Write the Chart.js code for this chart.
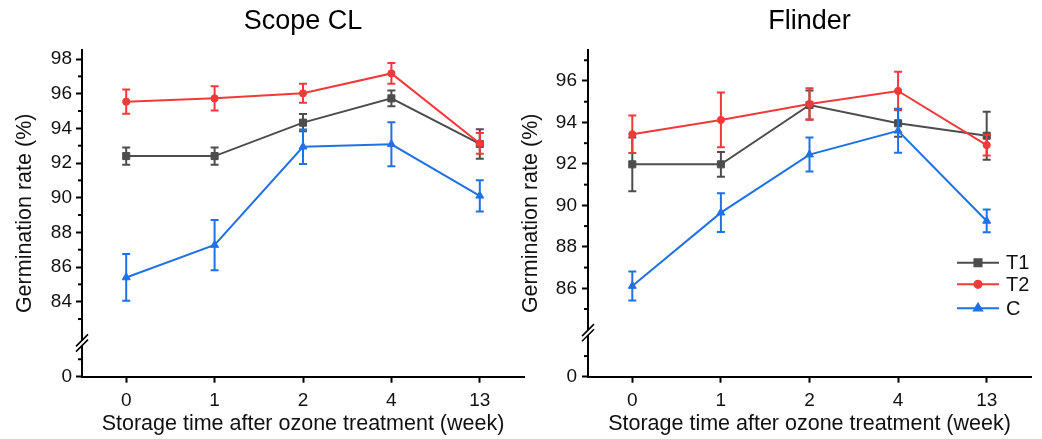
<!DOCTYPE html>
<html><head><meta charset="utf-8">
<script src="https://cdn.jsdelivr.net/npm/chart.js@4.4.1/dist/chart.umd.min.js"></script>
<style>
html,body{margin:0;padding:0;background:#fff;}
#wrap{position:relative;width:1042px;height:439px;overflow:hidden;background:#fff;}
canvas{position:absolute;top:0;}
</style></head><body>
<div id="wrap">
<canvas id="c1" width="530" height="439" style="left:0;width:530px;height:439px"></canvas>
<canvas id="c2" width="527" height="439" style="left:515px;width:527px;height:439px"></canvas>
</div>
<script>
// ---- data ----
const weeks = ['0', '1', '2', '4', '13'];
const seriesNames = ['T1', 'T2', 'C'];

const scopeT1 = [92.40, 92.40, 94.33, 95.73, 93.10];
const scopeT1Err = [0.50, 0.50, 0.50, 0.45, 0.85];
const scopeT2 = [95.54, 95.73, 96.02, 97.17, 93.13];
const scopeT2Err = [0.70, 0.70, 0.55, 0.60, 0.60];
const scopeC = [85.40, 87.27, 92.94, 93.08, 90.11];
const scopeCErr = [1.35, 1.45, 1.00, 1.27, 0.90];

const flinderT1 = [91.98, 91.98, 94.84, 93.96, 93.36];
const flinderT1Err = [1.30, 0.60, 0.70, 0.65, 1.16];
const flinderT2 = [93.43, 94.12, 94.89, 95.52, 92.91];
const flinderT2Err = [0.90, 1.32, 0.76, 0.93, 0.50];
const flinderC = [86.11, 89.65, 92.45, 93.60, 89.25];
const flinderCErr = [0.70, 0.93, 0.82, 1.06, 0.55];

// y tick labels (major) for each panel; "0" sits below the axis break
const scopeYTicks = [84, 86, 88, 90, 92, 94, 96, 98];
const flinderYTicks = [86, 88, 90, 92, 94, 96];

// ---- style ----
const FONT = '"Liberation Sans", Arial, sans-serif';
const colors = ['#4d4d4d', '#f03a3a', '#1f72e4'];
const pStyles = ['rect', 'circle', 'triangle'];
const pRadii = [5, 3.6, 4.6];

const errorPlugin = {
  id: 'errbars',
  afterDatasetDraw(chart, args) {
    const ds = chart.data.datasets[args.index];
    const ys = chart.scales.y, ctx = chart.ctx;
    ctx.save();
    ctx.strokeStyle = ds.borderColor; ctx.lineWidth = 2;
    args.meta.data.forEach((pt, i) => {
      const v = ds.data[i], e = ds.err[i];
      const x = pt.x, y1 = ys.getPixelForValue(v + e), y2 = ys.getPixelForValue(v - e);
      ctx.beginPath();
      ctx.moveTo(x, y1); ctx.lineTo(x, y2);
      ctx.moveTo(x - 4, y1); ctx.lineTo(x + 4, y1);
      ctx.moveTo(x - 4, y2); ctx.lineTo(x + 4, y2);
      ctx.stroke();
    });
    ctx.restore();
  }
};

const decoPlugin = {
  id: 'deco',
  afterDraw(chart, args, o) {
    const ctx = chart.ctx, ys = chart.scales.y;
    const ax = chart.chartArea.left;
    ctx.save();
    ctx.strokeStyle = '#000'; ctx.lineWidth = 2;
    o.minors.forEach(m => {
      const y = ys.getPixelForValue(m);
      ctx.beginPath(); ctx.moveTo(ax - 4, y); ctx.lineTo(ax, y); ctx.stroke();
    });
    // axis break
    const yb = ys.getPixelForValue(o.breakVal);
    ctx.fillStyle = '#fff';
    ctx.fillRect(ax - 3, yb - 2.5, 6, 5);
    ctx.lineWidth = 1.6;
    [-2.6, 2.6].forEach(d => {
      ctx.beginPath(); ctx.moveTo(ax - 6, yb + d + 6); ctx.lineTo(ax + 6, yb + d - 6); ctx.stroke();
    });
    // legend
    if (o.legend) {
      const L = o.legend;
      chart.data.datasets.forEach((ds, i) => {
        const y = L.y[i];
        ctx.strokeStyle = ds.borderColor; ctx.lineWidth = 2;
        ctx.beginPath(); ctx.moveTo(L.x0, y); ctx.lineTo(L.x1, y); ctx.stroke();
        ctx.fillStyle = ds.borderColor;
        Chart.helpers.drawPoint(ctx, {pointStyle: ds.pointStyle, radius: ds.pointRadius, borderWidth: 1}, (L.x0 + L.x1) / 2, y);
        ctx.fillStyle = '#111';
        ctx.font = '20px ' + FONT;
        ctx.textBaseline = 'middle'; ctx.textAlign = 'left';
        ctx.fillText(ds.label, L.tx, y + 1);
      });
    }
    ctx.restore();
  }
};

function makeChart(id, title, series, errs, yMin, yMax, majors, deco, o) {
  return new Chart(document.getElementById(id), {
    type: 'line',
    data: {
      labels: weeks,
      datasets: series.map((d, i) => ({
        label: seriesNames[i], data: d, err: errs[i],
        borderColor: colors[i], backgroundColor: colors[i],
        pointStyle: pStyles[i], pointRadius: pRadii[i], pointHoverRadius: pRadii[i],
        pointBorderWidth: 1, borderWidth: 2, tension: 0, order: 3 - i
      }))
    },
    options: {
      responsive: false, animation: false, events: [],
      layout: {padding: {left: 0, right: o.padRight, top: 0, bottom: 0}},
      plugins: {
        legend: {display: false}, tooltip: {enabled: false},
        title: {display: true, fullSize: false, align: 'center', text: title, color: '#000', font: {size: 27, family: FONT, weight: 'normal'}, padding: {top: 5.8, bottom: 11.8}},
        deco: deco
      },
      scales: {
        x: {
          type: 'category', offset: true,
          grid: {drawOnChartArea: false, drawTicks: true, tickLength: 6, tickWidth: 2, tickColor: '#000'},
          border: {color: '#000', width: 2},
          ticks: {font: {size: 19, family: FONT}, color: '#111', padding: 7, maxRotation: 0},
          title: {display: true, text: 'Storage time after ozone treatment (week)', color: '#111', font: {size: 21.5, family: FONT}, padding: {top: 0, bottom: 2.4}},
          afterFit: s => { s.height = 62.3; }
        },
        y: {
          type: 'linear', min: yMin, max: yMax,
          afterBuildTicks: s => { s.ticks = [yMin].concat(majors).map(v => ({value: v})); },
          grid: {drawOnChartArea: false, drawTicks: true, tickLength: 6, tickWidth: 2, tickColor: '#000'},
          border: {color: '#000', width: 2},
          ticks: {font: {size: 19, family: FONT}, color: '#111', padding: o.tickPad, autoSkip: false,
                  callback: v => (v === yMin ? '0' : String(v))},
          title: {display: true, text: 'Germination rate (%)', color: '#111', font: {size: 21.5, family: FONT}, padding: {top: o.titlePad, bottom: 0}},
          afterFit: s => { s.width = o.yWidth; }
        }
      }
    },
    plugins: [errorPlugin, decoPlugin]
  });
}

makeChart('c1', 'Scope CL',
  [scopeT1, scopeT2, scopeC], [scopeT1Err, scopeT2Err, scopeCErr],
  79.674, 98.52, scopeYTicks,
  {minors: [83, 85, 87, 89, 91, 93, 95, 97, 80.68], breakVal: 81.62},
  {padRight: 4.25, yWidth: 82, tickPad: 4, titlePad: 12.1});

makeChart('c2', 'Flinder',
  [flinderT1, flinderT2, flinderC], [flinderT1Err, flinderT2Err, flinderCErr],
  81.736, 97.495, flinderYTicks,
  {minors: [85, 87, 89, 91, 93, 95, 97, 82.73], breakVal: 83.86,
   legend: {x0: 442, x1: 484, tx: 491, y: [262.7, 284.3, 308.3]}},
  {padRight: 11, yWidth: 73, tickPad: 5, titlePad: 3.1});
</script>
</body></html>
